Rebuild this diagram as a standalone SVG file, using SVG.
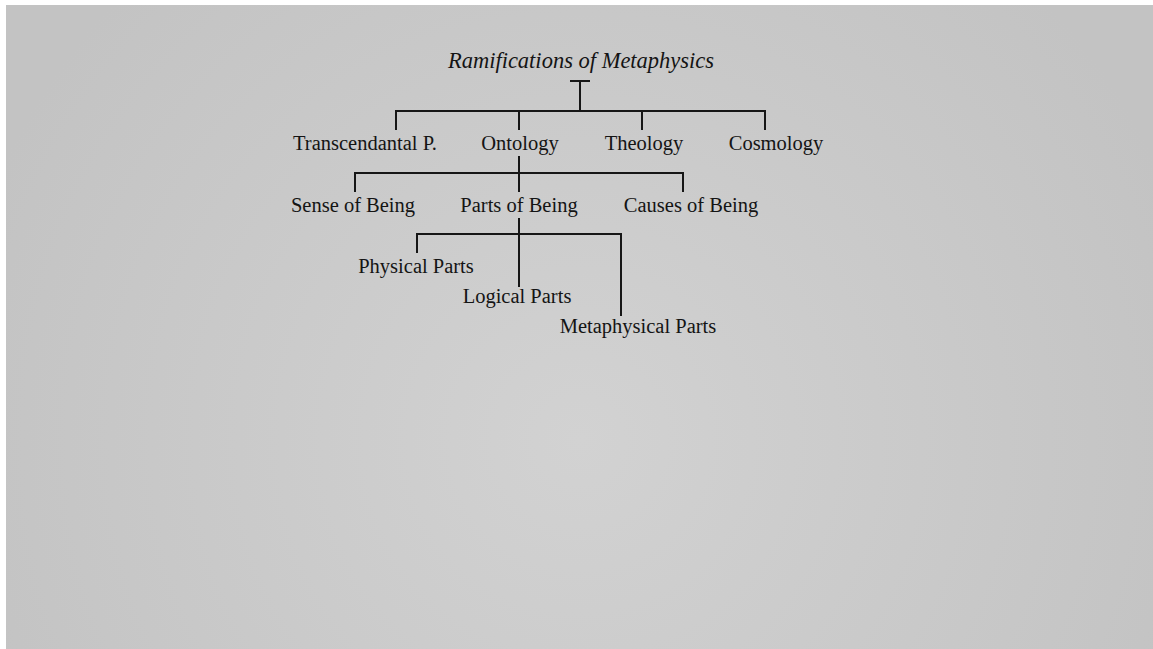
<svg xmlns="http://www.w3.org/2000/svg" width="1153" height="649" viewBox="0 0 1153 649">
  <defs>
    <radialGradient id="bg" cx="580" cy="440" r="640" gradientUnits="userSpaceOnUse">
      <stop offset="0" stop-color="#d2d2d2"/>
      <stop offset="1" stop-color="#c3c3c3"/>
    </radialGradient>
    <style>
      text { font-family: "Liberation Serif", "Times New Roman", serif; fill: #141414; text-anchor: middle; font-size: 20.5px; }
      .title { font-style: italic; font-size: 22.5px; }
      .links path { fill: none; stroke: #161616; stroke-width: 2; }
    </style>
  </defs>
  <rect width="1153" height="649" fill="#ffffff"/>
  <rect x="6" y="5" width="1147" height="644" fill="url(#bg)"/>

  <!-- tree connectors -->
  <g class="links">
    <path d="M570 81 H590 M580 81 V111"/>
    <path d="M396 130 V111 H765 V130 M519 111 V130 M642 111 V130"/>
    <path d="M519 156 V192 M355 192 V173 H683 V192"/>
    <path d="M519 218 V287 M417 253 V234 H621 V316"/>
  </g>

  <g id="root"><text class="title" x="581" y="68">Ramifications of Metaphysics</text></g>
  <g id="transcendental"><text x="365" y="150">Transcendantal P.</text></g>
  <g id="ontology"><text x="520" y="150">Ontology</text></g>
  <g id="theology"><text x="644" y="150">Theology</text></g>
  <g id="cosmology"><text x="776" y="150">Cosmology</text></g>
  <g id="sense"><text x="353" y="212">Sense of Being</text></g>
  <g id="parts"><text x="519" y="212">Parts of Being</text></g>
  <g id="causes"><text x="691" y="212">Causes of Being</text></g>
  <g id="physical"><text x="416" y="273">Physical Parts</text></g>
  <g id="logical"><text x="517" y="303">Logical Parts</text></g>
  <g id="metaphysical"><text x="638" y="333">Metaphysical Parts</text></g>
</svg>
